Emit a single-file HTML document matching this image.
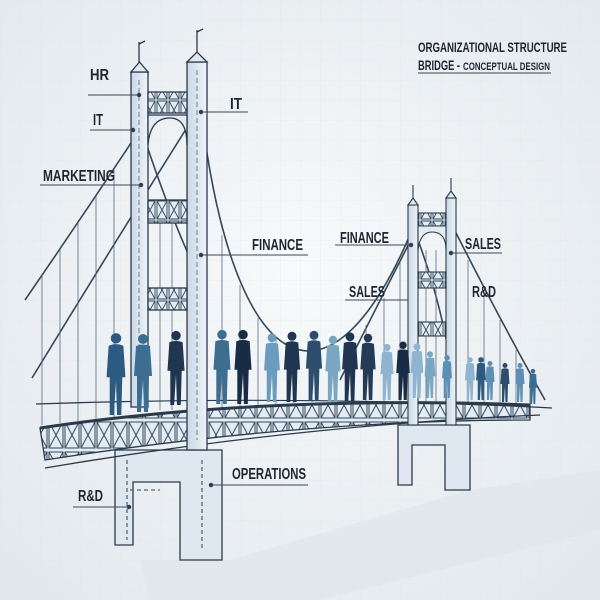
<!DOCTYPE html>
<html><head><meta charset="utf-8"><style>
html,body{margin:0;padding:0;width:600px;height:600px;overflow:hidden;background:#eef2f5}
svg{display:block}
text{font-family:"Liberation Sans Narrow","Liberation Sans",sans-serif;fill:#1c2530;font-weight:bold}
</style></head><body>
<svg width="600" height="600" viewBox="0 0 600 600" xmlns="http://www.w3.org/2000/svg">
<defs>
<radialGradient id="bg" cx="50%" cy="45%" r="70%">
<stop offset="0" stop-color="#f8fafb"/><stop offset="1" stop-color="#e2e8ed"/></radialGradient>
<pattern id="grid" width="20" height="20" patternUnits="userSpaceOnUse">
<path d="M20 0H0V20" fill="none" stroke="#dde4ea" stroke-width="0.6"/></pattern>
<pattern id="truss" width="16" height="30" patternUnits="userSpaceOnUse">
<rect width="16" height="30" fill="#e4ecf3"/>
<path d="M1 2L15 28M15 2L1 28M1 2H15V28H1Z" fill="none" stroke="#34475b" stroke-width="1"/></pattern>
<pattern id="truss2" width="12" height="20" patternUnits="userSpaceOnUse">
<rect width="12" height="20" fill="#e4ecf3"/>
<path d="M1 1L11 19M11 1L1 19M1 1H11V19H1Z" fill="none" stroke="#34475b" stroke-width="0.9"/></pattern>
<linearGradient id="tw" x1="0" x2="1"><stop offset="0" stop-color="#c9d8e6"/><stop offset="1" stop-color="#eef3f8"/></linearGradient>
<g id="p">
<circle cx="0" cy="-73" r="5"/>
<path d="M-7 -66 Q0 -69 7 -66 L9 -36 L6 -36 L5 0 L1 0 L0 -32 L-2 0 L-6 0 L-6 -36 L-9 -36Z"/>
</g>
</defs>
<rect width="600" height="600" fill="url(#bg)"/>
<rect width="600" height="600" fill="url(#grid)" opacity="0.8"/>
<!-- shadow -->
<polygon points="140,560 230,560 470,490 600,470 600,530 320,600 150,600" fill="#dde4ea" opacity="0.6"/>

<!-- main cables -->
<g fill="none" stroke="#34475b" stroke-width="1.6">
<path d="M133 140 Q80 220 25 300"/>
<path d="M193 118 Q110 250 32 378"/>
<path d="M205 140 C240 380 330 420 410 235"/>
<path d="M145 140 Q175 230 205 290"/>
<path d="M415 232 Q380 300 340 380"/>
<path d="M452 225 Q500 320 545 400"/>
<path d="M418 240 Q440 300 450 360"/>
</g>
<!-- hangers -->
<g stroke="#5a6c7e" stroke-width="0.8">
<line x1="42" y1="275" x2="42" y2="425"/><line x1="60" y1="250" x2="60" y2="423"/>
<line x1="78" y1="222" x2="78" y2="421"/><line x1="96" y1="196" x2="96" y2="419"/>
<line x1="114" y1="170" x2="114" y2="418"/><line x1="160" y1="200" x2="160" y2="410"/>
<line x1="172" y1="220" x2="172" y2="410"/>
<line x1="222" y1="235" x2="222" y2="408"/><line x1="240" y1="285" x2="240" y2="406"/>
<line x1="258" y1="318" x2="258" y2="405"/><line x1="276" y1="338" x2="276" y2="404"/>
<line x1="294" y1="350" x2="294" y2="403"/><line x1="312" y1="355" x2="312" y2="402"/>
<line x1="330" y1="352" x2="330" y2="402"/><line x1="348" y1="343" x2="348" y2="402"/>
<line x1="366" y1="325" x2="366" y2="402"/><line x1="384" y1="298" x2="384" y2="402"/>
<line x1="400" y1="262" x2="400" y2="402"/>
<line x1="426" y1="250" x2="426" y2="402"/><line x1="436" y1="250" x2="436" y2="402"/>
<line x1="468" y1="260" x2="468" y2="404"/><line x1="484" y1="290" x2="484" y2="405"/>
<line x1="500" y1="320" x2="500" y2="406"/><line x1="516" y1="350" x2="516" y2="406"/>
<line x1="530" y1="375" x2="530" y2="407"/>
</g>

<!-- left pier -->
<g stroke="#2b3a4a" stroke-width="1.3" fill="#dfe8f0">
<path d="M115 450 H222 V560 H180 V482 H133 V545 H115Z"/>
<line x1="130" y1="490" x2="160" y2="490" stroke-dasharray="4 3" stroke="#55687a"/>
<line x1="202" y1="460" x2="202" y2="550" stroke-dasharray="4 3" stroke="#55687a"/>
<line x1="127" y1="460" x2="127" y2="540" stroke-dasharray="4 3" stroke="#55687a"/>
</g>
<!-- right pier -->
<g stroke="#2b3a4a" stroke-width="1.3" fill="#dfe8f0">
<path d="M398 425 H470 V490 H445 V445 H412 V485 H398Z"/>
</g>

<!-- deck -->
<path d="M40 428 Q260 395 530 405 L530 420 Q300 420 45 460Z" fill="url(#truss)" stroke="#2b3a4a" stroke-width="1.3"/>
<path d="M40 428 Q260 395 530 405" fill="none" stroke="#2b3a4a" stroke-width="3"/>
<path d="M45 468 Q300 425 540 415" fill="none" stroke="#2b3a4a" stroke-width="1.3"/>
<path d="M36 404 Q300 395 552 408" fill="none" stroke="#2b3a4a" stroke-width="1.2"/>

<!-- left towers -->
<g stroke="#2b3a4a" stroke-width="1.3">
<rect x="131" y="72" width="17" height="335" fill="url(#tw)"/>
<polygon points="131,72 139.5,62 148,72" fill="#dfe8f0"/>
<rect x="187" y="62" width="20" height="388" fill="url(#tw)"/>
<polygon points="187,62 197,52 207,62" fill="#dfe8f0"/>
<rect x="148" y="92" width="39" height="21" fill="url(#truss2)"/>
<path d="M148 145 Q150 118 170 118 Q187 118 187 145 V115 H148Z" fill="#e4ecf3"/>
<rect x="148" y="200" width="39" height="23" fill="url(#truss2)"/>
<rect x="148" y="288" width="39" height="22" fill="url(#truss2)"/>
<line x1="139" y1="62" x2="139" y2="42"/><line x1="197" y1="52" x2="197" y2="30"/>
<path d="M139 44 l6 -3 M197 32 l6 -3" fill="none"/>
</g>
<g stroke="#55687a" stroke-dasharray="5 3" stroke-width="0.8">
<line x1="139" y1="80" x2="139" y2="400"/><line x1="197" y1="70" x2="197" y2="440"/></g>

<!-- right towers -->
<g stroke="#2b3a4a" stroke-width="1.1">
<rect x="408" y="205" width="10" height="220" fill="url(#tw)"/>
<polygon points="408,205 413,198 418,205" fill="#dfe8f0"/>
<rect x="446" y="198" width="10" height="227" fill="url(#tw)"/>
<polygon points="446,198 451,191 456,198" fill="#dfe8f0"/>
<rect x="418" y="213" width="28" height="13" fill="url(#truss2)"/>
<path d="M418 250 Q420 232 432 232 Q446 232 446 250 V226 H418Z" fill="#e4ecf3"/>
<rect x="418" y="272" width="28" height="16" fill="url(#truss2)"/>
<rect x="418" y="322" width="28" height="14" fill="url(#truss2)"/>
<line x1="413" y1="198" x2="413" y2="185"/><line x1="451" y1="191" x2="451" y2="178"/>
</g>

<!-- people -->
<g>
<use href="#p" transform="translate(116,415) scale(1.05)" fill="#2d5a80"/>
<use href="#p" transform="translate(143,412) scale(1.0)" fill="#3e6d92"/>
<use href="#p" transform="translate(176,405) scale(0.95)" fill="#1f3550"/>
<use href="#p" transform="translate(222,404) scale(0.95)" fill="#3e6d92"/>
<use href="#p" transform="translate(243,404) scale(0.95)" fill="#1a2c45"/>
<use href="#p" transform="translate(272,402) scale(0.88)" fill="#6b9bbd"/>
<use href="#p" transform="translate(292,402) scale(0.9)" fill="#1f3550"/>
<use href="#p" transform="translate(314,401) scale(0.9)" fill="#2d4d6d"/>
<use href="#p" transform="translate(333,402) scale(0.85)" fill="#7aa6c4"/>
<use href="#p" transform="translate(350,401) scale(0.88)" fill="#1f3550"/>
<use href="#p" transform="translate(368,400) scale(0.85)" fill="#243a55"/>
<use href="#p" transform="translate(387,400) scale(0.72)" fill="#8fb4cf"/>
<use href="#p" transform="translate(403,400) scale(0.75)" fill="#1a2c45"/>
<use href="#p" transform="translate(417,398) scale(0.7)" fill="#8fb4cf"/>
<use href="#p" transform="translate(430,398) scale(0.6)" fill="#7aa6c4"/>
<use href="#p" transform="translate(447,398) scale(0.55)" fill="#5d8fb5"/>
<use href="#p" transform="translate(470,400) scale(0.55)" fill="#8fb4cf"/>
<use href="#p" transform="translate(481,400) scale(0.55)" fill="#2d5a80"/>
<use href="#p" transform="translate(490,400) scale(0.5)" fill="#5d8fb5"/>
<use href="#p" transform="translate(505,402) scale(0.5)" fill="#2d4d6d"/>
<use href="#p" transform="translate(520,402) scale(0.5)" fill="#5d8fb5"/>
<use href="#p" transform="translate(533,404) scale(0.45)" fill="#3e6d92"/>
</g>

<!-- label lines -->
<g stroke="#3a4756" stroke-width="0.9" fill="#2b3a4a">
<line x1="88" y1="95" x2="140" y2="95"/><circle cx="139" cy="95" r="1.8"/>
<line x1="90" y1="130" x2="133" y2="130"/><circle cx="133" cy="130" r="1.8"/>
<line x1="40" y1="185" x2="142" y2="185"/><circle cx="141" cy="185" r="1.8"/>
<line x1="200" y1="112" x2="248" y2="112"/><circle cx="201" cy="112" r="1.8"/>
<line x1="200" y1="255" x2="308" y2="255"/><circle cx="201" cy="255" r="1.8"/>
<line x1="335" y1="245" x2="412" y2="245"/><circle cx="411" cy="245" r="1.8"/>
<line x1="450" y1="253" x2="502" y2="253"/><circle cx="451" cy="253" r="1.8"/>
<line x1="345" y1="300" x2="408" y2="300"/>
<line x1="210" y1="485" x2="308" y2="485"/><circle cx="211" cy="485" r="1.8"/>
<line x1="73" y1="507" x2="130" y2="507"/><circle cx="129" cy="507" r="1.8"/>
<line x1="418" y1="73" x2="551" y2="73"/>
</g>

<!-- labels -->
<g font-size="16">
<text x="90" y="80" textLength="19" lengthAdjust="spacingAndGlyphs">HR</text>
<text x="93" y="125" textLength="10" lengthAdjust="spacingAndGlyphs">IT</text>
<text x="43" y="181" textLength="72" lengthAdjust="spacingAndGlyphs">MARKETING</text>
<text x="230" y="109" textLength="12" lengthAdjust="spacingAndGlyphs">IT</text>
<text x="252" y="250" textLength="51" lengthAdjust="spacingAndGlyphs">FINANCE</text>
<text x="340" y="243" textLength="49" lengthAdjust="spacingAndGlyphs">FINANCE</text>
<text x="465" y="249" textLength="36" lengthAdjust="spacingAndGlyphs">SALES</text>
<text x="349" y="297" textLength="36" lengthAdjust="spacingAndGlyphs">SALES</text>
<text x="472" y="297" textLength="24" lengthAdjust="spacingAndGlyphs">R&amp;D</text>
<text x="232" y="479" textLength="74" lengthAdjust="spacingAndGlyphs">OPERATIONS</text>
<text x="78" y="501" textLength="25" lengthAdjust="spacingAndGlyphs">R&amp;D</text>
</g>
<text x="418" y="52" font-size="14" font-weight="normal" textLength="149" lengthAdjust="spacingAndGlyphs">ORGANIZATIONAL STRUCTURE</text>
<text x="418" y="70" font-size="14" font-weight="normal" textLength="42" lengthAdjust="spacingAndGlyphs">BRIDGE -</text>
<text x="463" y="70" font-size="11" font-weight="normal" textLength="87" lengthAdjust="spacingAndGlyphs">CONCEPTUAL DESIGN</text>
</svg>
</body></html>
